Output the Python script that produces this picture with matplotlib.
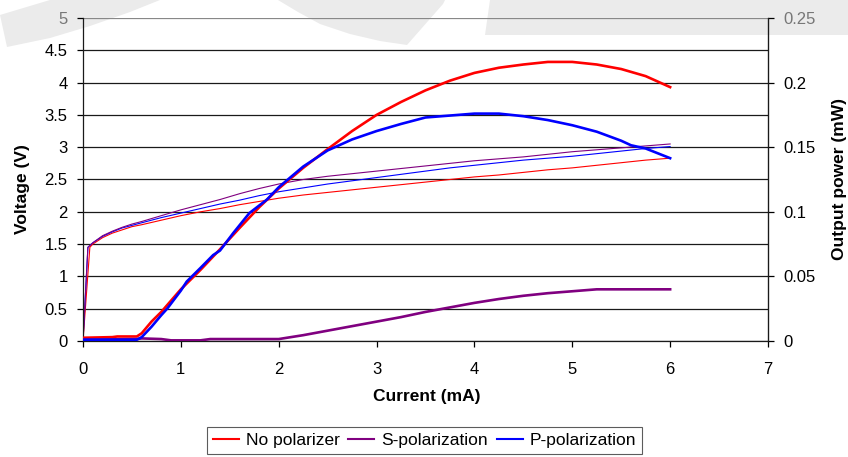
import matplotlib.pyplot as plt
from matplotlib.patches import Polygon
from matplotlib.lines import Line2D

plt.rcParams['font.family'] = ['Liberation Sans', 'DejaVu Sans']

# Voltage curves (left axis, V)
cur_v = [0, 0.05, 0.1, 0.2, 0.3, 0.4, 0.5, 0.6, 0.8, 1.0, 1.2, 1.4, 1.6, 1.8, 2.0,
         2.25, 2.5, 2.75, 3.0, 3.25, 3.5, 3.75, 4.0, 4.25, 4.5, 4.75, 5.0, 5.25,
         5.5, 5.75, 6.0]
volt_s = [0, 1.45, 1.52, 1.63, 1.70, 1.76, 1.81, 1.85, 1.94, 2.03, 2.11, 2.19, 2.28,
          2.36, 2.43, 2.50, 2.55, 2.59, 2.63, 2.67, 2.71, 2.75, 2.79, 2.82, 2.85,
          2.89, 2.93, 2.96, 2.99, 3.02, 3.05]
volt_p = [0, 1.45, 1.52, 1.62, 1.69, 1.75, 1.79, 1.83, 1.91, 1.98, 2.05, 2.12, 2.18,
          2.25, 2.31, 2.37, 2.43, 2.48, 2.53, 2.58, 2.63, 2.68, 2.72, 2.76, 2.80,
          2.83, 2.86, 2.90, 2.94, 2.98, 3.01]
cur_v_red = [0, 0.07, 0.1, 0.2, 0.3, 0.4, 0.5, 0.6, 0.8, 1.0, 1.2, 1.4, 1.6, 1.8, 2.0,
             2.25, 2.5, 2.75, 3.0, 3.25, 3.5, 3.75, 4.0, 4.25, 4.5, 4.75, 5.0, 5.25,
             5.5, 5.75, 6.0]
volt_none = [0, 1.45, 1.50, 1.60, 1.67, 1.72, 1.77, 1.80, 1.87, 1.94, 2.00, 2.05, 2.11,
             2.16, 2.21, 2.26, 2.30, 2.34, 2.38, 2.42, 2.46, 2.50, 2.54, 2.57, 2.61,
             2.65, 2.68, 2.72, 2.76, 2.80, 2.83]

# Output power curves (right axis, mW)
cur_p_none = [0, 0.3, 0.35, 0.55, 0.6, 0.7, 0.8, 1.0, 1.2, 1.4, 1.6, 1.8, 2.0, 2.25,
              2.5, 2.75, 3.0, 3.25, 3.5, 3.75, 4.0, 4.25, 4.5, 4.75, 5.0, 5.25, 5.5,
              5.75, 6.0]
pow_none = [0.0025, 0.003, 0.0035, 0.0035, 0.006, 0.015, 0.0225, 0.04, 0.055, 0.071,
            0.0875, 0.1035, 0.118, 0.134, 0.1485, 0.1625, 0.175, 0.185, 0.194, 0.2015,
            0.2075, 0.2115, 0.214, 0.216, 0.216, 0.214, 0.2105, 0.205, 0.1965]
cur_p_s = [0, 0.55, 0.6, 0.8, 0.9, 1.2, 1.3, 2.0, 2.25, 2.5, 2.75, 3.0, 3.25, 3.5,
           3.75, 4.0, 4.25, 4.5, 4.75, 5.0, 5.25, 5.5, 5.75, 6.0]
pow_s = [0.001, 0.0015, 0.002, 0.0015, 0.0005, 0.0005, 0.0015, 0.0015, 0.0045, 0.008,
         0.0115, 0.015, 0.0185, 0.0225, 0.026, 0.0295, 0.0325, 0.035, 0.037, 0.0385,
         0.04, 0.04, 0.04, 0.04]
cur_p_p = [0, 0.55, 0.6, 0.7, 0.8, 0.86, 1.0, 1.06, 1.2, 1.33, 1.4, 1.535, 1.7, 1.88,
           2.0, 2.25, 2.5, 2.75, 3.0, 3.25, 3.5, 3.75, 4.0, 4.25, 4.5, 4.75, 5.0, 5.25,
           5.5, 5.6, 5.75, 6.0]
pow_p = [0.001, 0.001, 0.003, 0.011, 0.02, 0.025, 0.039, 0.046, 0.0565, 0.0665, 0.07,
         0.0835, 0.099, 0.1095, 0.119, 0.135, 0.1475, 0.156, 0.1625, 0.168, 0.173,
         0.1745, 0.176, 0.176, 0.174, 0.171, 0.167, 0.162, 0.155, 0.1515, 0.149, 0.1415]

labels = ['No polarizer', 'S-polarization', 'P-polarization']
colors = ['#ff0000', '#800080', '#0000ff']

W, H = 848, 457
fig = plt.figure(figsize=(W / 100, H / 100), dpi=100)

# faint grey shapes behind the chart
shapes = [
    [(0, 15), (50, 0), (160, 0), (130, 12), (90, 26), (50, 38), (7, 47)],
    [(278, 0), (445, 0), (443, 4), (407, 45), (380, 41), (350, 34), (320, 24), (298, 12)],
    [(490, 0), (848, 0), (848, 35), (485, 35)],
]
for pts in shapes:
    fig.add_artist(Polygon([(x / W, 1 - y / H) for x, y in pts], closed=True,
                           transform=fig.transFigure, facecolor='#ebebeb',
                           edgecolor='none', zorder=-5))

ax = fig.add_axes([83 / W, 1 - 341 / H, 685 / W, 323 / H])
ax.set_facecolor('none')
ax2 = ax.twinx()

ax.plot(cur_v_red, volt_none, color=colors[0], lw=0.8)
ax.plot(cur_v, volt_p, color=colors[2], lw=0.8)
ax.plot(cur_v, volt_s, color=colors[1], lw=0.8)

ax2.plot(cur_p_none, pow_none, color=colors[0], lw=1.9)
ax2.plot(cur_p_s, pow_s, color=colors[1], lw=1.9)
ax2.plot(cur_p_p, pow_p, color=colors[2], lw=1.9)

ax.set_xlim(0, 7)
ax.set_ylim(0, 5)
ax2.set_ylim(0, 0.25)
ax.set_xticks(range(8))
ax.set_yticks([i * 0.5 for i in range(11)])
ax.set_yticklabels(['0', '0.5', '1', '1.5', '2', '2.5', '3', '3.5', '4', '4.5', '5'])
ax2.set_yticks([0, 0.05, 0.1, 0.15, 0.2, 0.25])
ax2.set_yticklabels(['0', '0.05', '0.1', '0.15', '0.2', '0.25'])

ax.grid(axis='y', color='#1a1a1a', lw=0.9)
ax.get_ygridlines()[-1].set_color('#888888')
ax.get_yticklabels()[-1].set_color('#777777')
ax2.get_yticklabels()[-1].set_color('#777777')

ax.tick_params(axis='y', direction='out', length=4, width=0.9, pad=7, labelsize=12)
ax.tick_params(axis='x', direction='out', length=4, width=0.9, pad=11, labelsize=12)
ax2.tick_params(axis='y', direction='out', length=4, width=0.9, pad=7, labelsize=12)

ax.spines['top'].set_visible(False)
for s in ['top', 'left', 'bottom']:
    ax2.spines[s].set_visible(False)
for sp in [ax.spines['left'], ax.spines['bottom'], ax2.spines['right']]:
    sp.set_linewidth(0.9)
    sp.set_color('#1a1a1a')

ax.set_xlabel('Current (mA)', fontsize=12.5, fontweight='bold', va='center')
ax.xaxis.set_label_coords(0.502, -0.173)
ax.set_ylabel('Voltage (V)', fontsize=12.5, fontweight='bold', va='center')
ax.yaxis.set_label_coords(-0.089, 0.47)
ax2.set_ylabel('Output power (mW)', fontsize=12.5, fontweight='bold', va='center',
               rotation=90)
ax2.yaxis.set_label_coords(1.105, 0.5)

handles = [Line2D([], [], color=c, lw=1.5) for c in colors]
leg = fig.legend(handles, labels, loc='upper center', ncol=3,
                 bbox_to_anchor=(424.5 / W, 1 - 427 / H), fontsize=12.5,
                 frameon=True, fancybox=False, edgecolor='#333333',
                 handlelength=1.5, handletextpad=0.4, columnspacing=0.5,
                 borderpad=0.35, borderaxespad=0)
leg.get_frame().set_linewidth(0.8)

fig.savefig('out.png', dpi=100)
